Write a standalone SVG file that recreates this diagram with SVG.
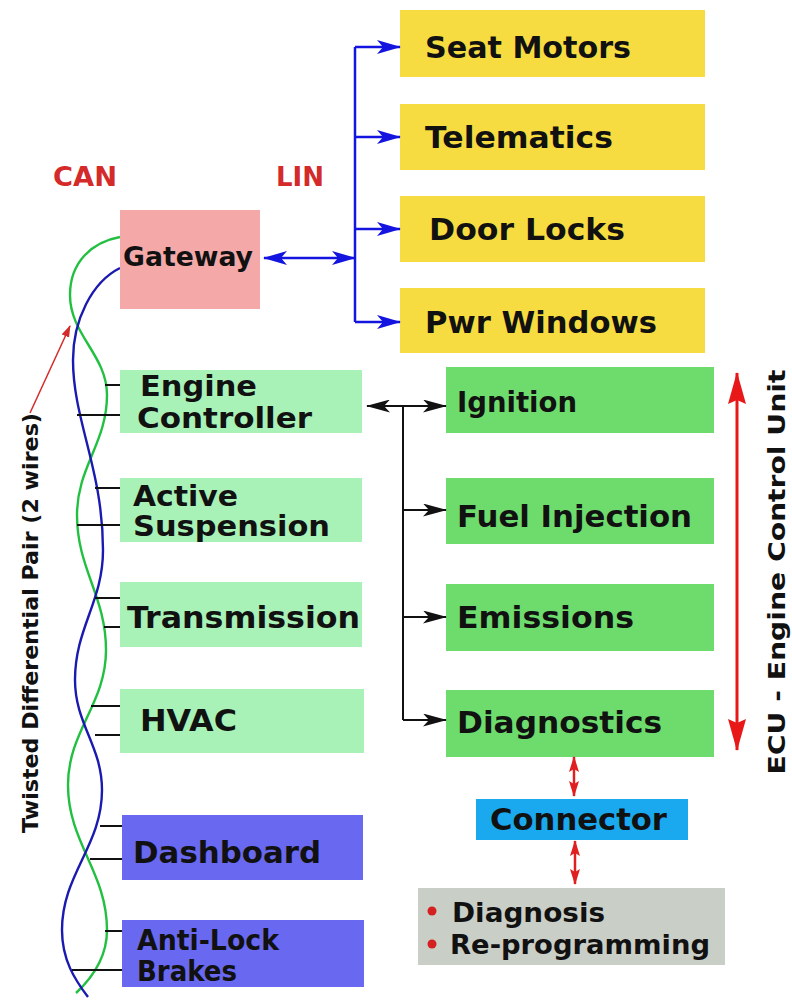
<svg xmlns="http://www.w3.org/2000/svg" width="792" height="1006" viewBox="0 0 792 1006">
<defs>
<style>
.lbl{font-family:"DejaVu Sans","Liberation Sans",sans-serif;font-weight:bold;fill:#111}
.red{fill:#d42a2a}
.yel{fill:#f6dc40}
.lg{fill:#a8f2b8}
.dg{fill:#6ddc6d}
.bl{fill:#6868f0}
.wire{fill:none;stroke-width:2.4}
.tick{stroke:#111;stroke-width:2}
</style>
<marker id="mb" markerUnits="userSpaceOnUse" markerWidth="24" markerHeight="14" viewBox="0 0 24 14" refX="23" refY="7" orient="auto-start-reverse"><path d="M0,0 L24,7 L0,14 L6,7 z" fill="#1414e0"/></marker>
<marker id="mk" markerUnits="userSpaceOnUse" markerWidth="24" markerHeight="13" viewBox="0 0 24 13" refX="23" refY="6.5" orient="auto-start-reverse"><path d="M0,0 L24,6.5 L0,13 L6,6.5 z" fill="#111"/></marker>
<marker id="mr" markerUnits="userSpaceOnUse" markerWidth="32" markerHeight="18" viewBox="0 0 32 18" refX="31" refY="9" orient="auto-start-reverse"><path d="M0,0 L32,9 L0,18 L4,9 z" fill="#e81818"/></marker>
<marker id="ms" markerUnits="userSpaceOnUse" markerWidth="16" markerHeight="10" viewBox="0 0 16 10" refX="15" refY="5" orient="auto-start-reverse"><path d="M0,0 L16,5 L0,10 L3,5 z" fill="#e02020"/></marker>
<marker id="mt" markerUnits="userSpaceOnUse" markerWidth="12" markerHeight="8" viewBox="0 0 12 8" refX="11" refY="4" orient="auto"><path d="M0,0 L12,4 L0,8 z" fill="#d42a2a"/></marker>
</defs>
<rect width="792" height="1006" fill="#fff"/>

<text class="lbl red" x="53" y="186" font-size="26" textLength="64" lengthAdjust="spacingAndGlyphs">CAN</text>
<text class="lbl red" x="276" y="186" font-size="26" textLength="48" lengthAdjust="spacingAndGlyphs">LIN</text>

<g id="wires">
<path class="wire" stroke="#22c040" d="M120,237 C92,242 70,262 70,295 C70,335 107,355 107,395 C107,443 77,467 77,515 C77,569 106,596 106,650 C106,704 68,731 68,785 C68,843 107,872 107,930 C107,960 90,980 76,993"/>
<path class="wire" stroke="#1a1ab0" d="M120,268 C92,282 73,320 73,360 C73,420 103,470 103,550 C103,602 75,628 75,680 C75,724 102,746 102,790 C102,846 62,874 62,930 C62,960 75,980 88,997"/>
<line class="tick" x1="105" y1="385" x2="121" y2="385"/>
<line class="tick" x1="77" y1="415" x2="121" y2="415"/>
<line class="tick" x1="95" y1="488" x2="121" y2="488"/>
<line class="tick" x1="77" y1="525" x2="121" y2="525"/>
<line class="tick" x1="95" y1="598" x2="121" y2="598"/>
<line class="tick" x1="104" y1="627" x2="121" y2="627"/>
<line class="tick" x1="91" y1="706" x2="121" y2="706"/>
<line class="tick" x1="95" y1="735" x2="121" y2="735"/>
<line class="tick" x1="100" y1="826" x2="123" y2="826"/>
<line class="tick" x1="90" y1="859" x2="123" y2="859"/>
<line class="tick" x1="105" y1="931" x2="123" y2="931"/>
<line class="tick" x1="72" y1="970" x2="123" y2="970"/>
</g>

<g id="twisted-label">
<line x1="30" y1="413" x2="70" y2="326" stroke="#d42a2a" stroke-width="1.5" marker-end="url(#mt)"/>
<text class="lbl" font-size="21" transform="translate(38,623) rotate(-90)" text-anchor="middle" textLength="420" lengthAdjust="spacingAndGlyphs">Twisted Differential Pair (2 wires)</text>
</g>

<g id="gateway"><rect x="120" y="210" width="140" height="99" fill="#f4a8a8"/><text class="lbl" x="123" y="266" font-size="27" textLength="130" lengthAdjust="spacingAndGlyphs">Gateway</text></g>

<g id="seat-motors"><rect class="yel" x="400" y="10" width="305" height="67"/><text class="lbl" x="425" y="58" font-size="31" textLength="206" lengthAdjust="spacingAndGlyphs">Seat Motors</text></g>
<g id="telematics"><rect class="yel" x="400" y="104" width="305" height="66"/><text class="lbl" x="425" y="148" font-size="31" textLength="188" lengthAdjust="spacingAndGlyphs">Telematics</text></g>
<g id="door-locks"><rect class="yel" x="400" y="196" width="305" height="66"/><text class="lbl" x="429" y="240" font-size="31" textLength="196" lengthAdjust="spacingAndGlyphs">Door Locks</text></g>
<g id="pwr-windows"><rect class="yel" x="400" y="288" width="305" height="65"/><text class="lbl" x="425" y="333" font-size="31" textLength="232" lengthAdjust="spacingAndGlyphs">Pwr Windows</text></g>

<g id="engine-controller"><rect class="lg" x="120" y="370" width="242" height="63"/><text class="lbl" font-size="28"><tspan x="140" y="396" textLength="117" lengthAdjust="spacingAndGlyphs">Engine</tspan><tspan x="137" y="428" textLength="175" lengthAdjust="spacingAndGlyphs">Controller</tspan></text></g>
<g id="active-suspension"><rect class="lg" x="120" y="478" width="242" height="64"/><text class="lbl" font-size="28"><tspan x="133" y="506" textLength="105" lengthAdjust="spacingAndGlyphs">Active</tspan><tspan x="133" y="536" textLength="197" lengthAdjust="spacingAndGlyphs">Suspension</tspan></text></g>
<g id="transmission"><rect class="lg" x="120" y="582" width="242" height="65"/><text class="lbl" x="127" y="628" font-size="30" textLength="233" lengthAdjust="spacingAndGlyphs">Transmission</text></g>
<g id="hvac"><rect class="lg" x="120" y="689" width="244" height="64"/><text class="lbl" x="140" y="731" font-size="30" textLength="97" lengthAdjust="spacingAndGlyphs">HVAC</text></g>
<g id="dashboard"><rect class="bl" x="122" y="815" width="241" height="65"/><text class="lbl" x="133" y="863" font-size="30" textLength="188" lengthAdjust="spacingAndGlyphs" fill="#0a0a30">Dashboard</text></g>
<g id="anti-lock-brakes"><rect class="bl" x="122" y="920" width="242" height="67"/><text class="lbl" font-size="28" fill="#0a0a30"><tspan x="137" y="950" textLength="142" lengthAdjust="spacingAndGlyphs">Anti-Lock</tspan><tspan x="137" y="981" textLength="100" lengthAdjust="spacingAndGlyphs">Brakes</tspan></text></g>

<g id="ignition"><rect class="dg" x="446" y="367" width="268" height="66"/><text class="lbl" x="457" y="412" font-size="28" textLength="120" lengthAdjust="spacingAndGlyphs" fill="#0a2a0a">Ignition</text></g>
<g id="fuel-injection"><rect class="dg" x="446" y="478" width="268" height="66"/><text class="lbl" x="457" y="527" font-size="30" textLength="235" lengthAdjust="spacingAndGlyphs" fill="#0a2a0a">Fuel Injection</text></g>
<g id="emissions"><rect class="dg" x="446" y="584" width="268" height="67"/><text class="lbl" x="457" y="628" font-size="31" textLength="177" lengthAdjust="spacingAndGlyphs" fill="#0a2a0a">Emissions</text></g>
<g id="diagnostics"><rect class="dg" x="446" y="690" width="268" height="67"/><text class="lbl" x="457" y="733" font-size="30" textLength="205" lengthAdjust="spacingAndGlyphs" fill="#2a1808">Diagnostics</text></g>

<g id="connector"><rect x="476" y="799" width="212" height="41" fill="#1aa8ee"/><text class="lbl" x="490" y="830" font-size="31" textLength="177" lengthAdjust="spacingAndGlyphs" fill="#0a1848">Connector</text></g>

<g id="diagnosis-box"><rect x="418" y="888" width="307" height="77" fill="#c9cec6"/>
<circle cx="432" cy="911" r="4.5" fill="#d42020"/><circle cx="432" cy="944" r="4.5" fill="#d42020"/>
<text class="lbl" font-size="27"><tspan x="452" y="922" textLength="153" lengthAdjust="spacingAndGlyphs">Diagnosis</tspan><tspan x="450" y="954" textLength="260" lengthAdjust="spacingAndGlyphs">Re-programming</tspan></text></g>

<g id="ecu-label"><text class="lbl" font-size="23" transform="translate(785,572) rotate(-90)" text-anchor="middle" textLength="405" lengthAdjust="spacingAndGlyphs">ECU - Engine Control Unit</text></g>

<g id="connectors">
<line x1="264" y1="258" x2="355" y2="258" stroke="#1414e0" stroke-width="2.5" marker-start="url(#mb)" marker-end="url(#mb)"/>
<line x1="355" y1="47" x2="355" y2="322" stroke="#1414e0" stroke-width="2.5"/>
<line x1="355" y1="47" x2="400" y2="47" stroke="#1414e0" stroke-width="2.5" marker-end="url(#mb)"/>
<line x1="355" y1="137" x2="400" y2="137" stroke="#1414e0" stroke-width="2.5" marker-end="url(#mb)"/>
<line x1="355" y1="229" x2="400" y2="229" stroke="#1414e0" stroke-width="2.5" marker-end="url(#mb)"/>
<line x1="355" y1="322" x2="400" y2="322" stroke="#1414e0" stroke-width="2.5" marker-end="url(#mb)"/>
<line x1="367" y1="406" x2="403" y2="406" stroke="#111" stroke-width="2" marker-start="url(#mk)"/>
<line x1="403" y1="406" x2="446" y2="406" stroke="#111" stroke-width="2" marker-end="url(#mk)"/>
<line x1="403" y1="406" x2="403" y2="720" stroke="#111" stroke-width="2"/>
<line x1="403" y1="510" x2="446" y2="510" stroke="#111" stroke-width="2" marker-end="url(#mk)"/>
<line x1="403" y1="617" x2="446" y2="617" stroke="#111" stroke-width="2" marker-end="url(#mk)"/>
<line x1="403" y1="720" x2="446" y2="720" stroke="#111" stroke-width="2" marker-end="url(#mk)"/>
<line x1="737" y1="373" x2="737" y2="750" stroke="#e81818" stroke-width="3" marker-start="url(#mr)" marker-end="url(#mr)"/>
<line x1="574" y1="757" x2="574" y2="796" stroke="#e02020" stroke-width="2.5" marker-start="url(#ms)" marker-end="url(#ms)"/>
<line x1="575" y1="841" x2="575" y2="884" stroke="#e02020" stroke-width="2.5" marker-start="url(#ms)" marker-end="url(#ms)"/>
</g>
</svg>
